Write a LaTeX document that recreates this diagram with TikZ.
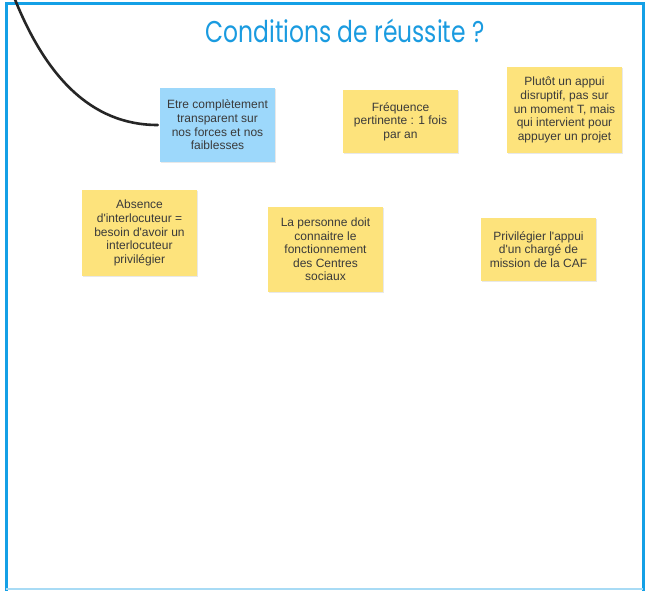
\documentclass[tikz,border=0pt]{standalone}
\usepackage{fontspec}
\setmainfont{Liberation Sans}
\newfontfamily\titlefont{Poppins}
\definecolor{frameblue}{HTML}{14A0E6}
\definecolor{framelight}{HTML}{A8DBF5}
\definecolor{titleblue}{HTML}{1A9BE0}
\definecolor{noteyellow}{HTML}{FDE37C}
\definecolor{noteblue}{HTML}{9DD8FB}
\definecolor{notetext}{HTML}{3A3A3A}
\begin{document}
\begin{tikzpicture}[x=1pt,y=-1pt,
  note/.style={minimum width=115pt, align=center, inner sep=0pt,
    font=\fontsize{12}{13.6}\selectfont, text=notetext,
    preaction={fill=black!25, opacity=0.35, transform canvas={xshift=0.8pt,yshift=-1.2pt}}},
  yel/.style={note, fill=noteyellow},
  blu/.style={note, fill=noteblue}]
\useasboundingbox (0,0) rectangle (645,590);
\fill[white] (0,0) rectangle (645,590);
\draw[frameblue, line width=3pt] (6,3) rectangle (643,593);
\draw[framelight, line width=1.5pt] (6,589.2) -- (643,589.2);
\node[text=titleblue, font=\titlefont\fontsize{30}{34}\selectfont] (title) at (345,31) {\scalebox{0.78}[1]{Conditions de réussite ?}};
\node[blu, minimum height=74pt] (n1) at (217.5,125) {Etre complètement\\transparent sur\\nos forces et nos\\faiblesses};
\node[yel, minimum height=63pt] (n2) at (400.5,121.5) {Fréquence\\pertinente : 1 fois\\par an};
\node[yel, minimum height=86pt] (n3) at (564.5,110) {Plutôt un appui\\disruptif, pas sur\\un moment T, mais\\qui intervient pour\\appuyer un projet};
\node[yel, minimum height=86pt] (n4) at (139.5,233) {Absence\\d\textquotesingle interlocuteur =\\besoin d\textquotesingle avoir un\\interlocuteur\\privilégier};
\node[yel, minimum height=85pt] (n5) at (325.5,249.5) {La personne doit\\connaitre le\\fonctionnement\\des Centres\\sociaux};
\node[yel, minimum height=63pt] (n6) at (538.5,249.5) {Privilégier l\textquotesingle appui\\d\textquotesingle un chargé de\\mission de la CAF};
\coordinate (cstart) at (14,-3);
\draw[line width=2.6pt, black!85, line cap=round] (cstart) .. controls (45,75) and (90,125) .. ([xshift=-2pt]n1.west);
\end{tikzpicture}
\end{document}
